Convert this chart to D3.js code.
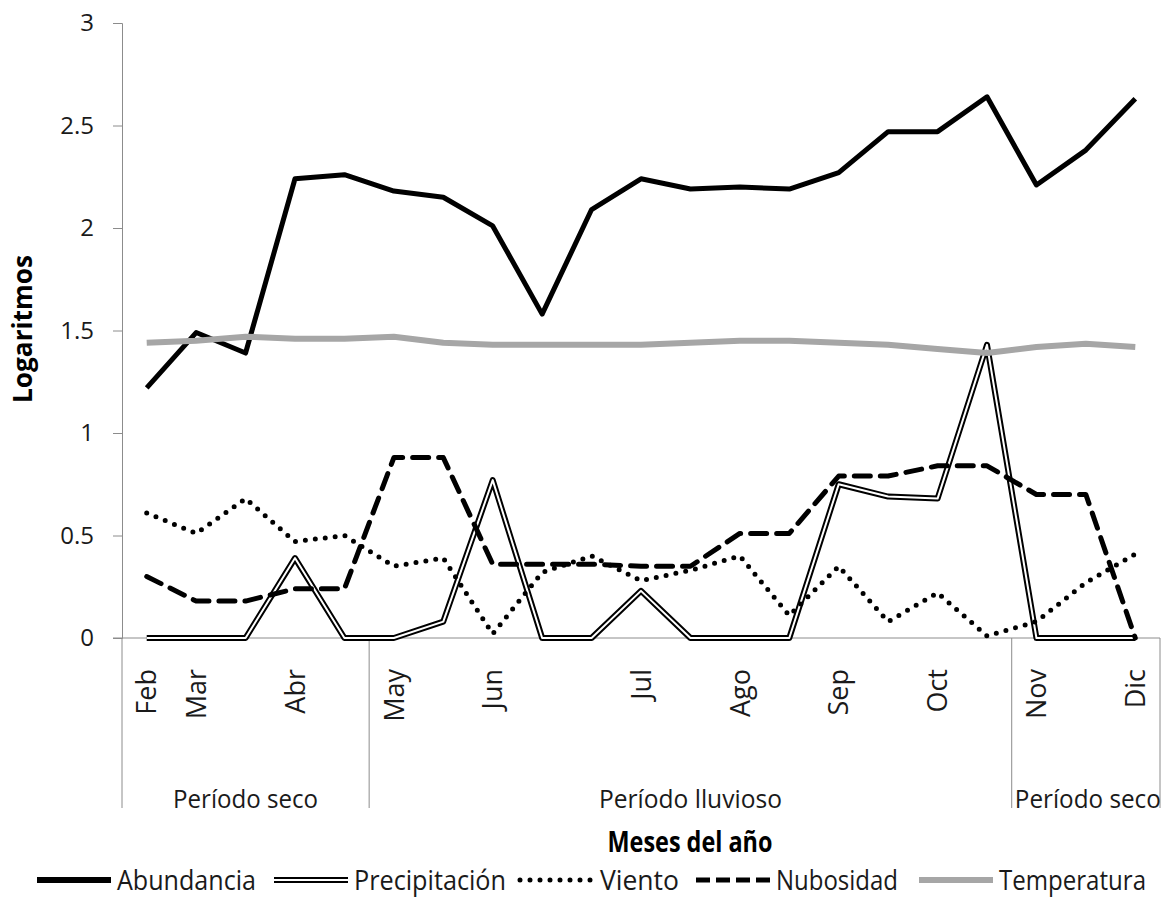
<!doctype html>
<html>
<head>
<meta charset="utf-8">
<script src="https://cdnjs.cloudflare.com/ajax/libs/d3/7.8.5/d3.min.js" type="text/JavaScript"></script>
<style>
body { margin: 0; background: #fff; }
svg { font-family: "Open Sans", "Liberation Sans", sans-serif; }
</style>
</head>
<body>
<div id="viz">
<svg style="width:1171px;height:911px;" />
</div>
<script type="text/javascript">
var categories = ["Feb", "Mar", "", "Abr", "", "May", "", "Jun", "", "", "Jul", "", "Ago", "", "Sep", "", "Oct", "", "Nov", "", "Dic"];
var periodNames = ["Período seco", "Período lluvioso", "Período seco"];
var periodStart = [0, 5, 18];
var periodEnd = [5, 18, 21];

var abundancia = [1.22, 1.49, 1.39, 2.24, 2.26, 2.18, 2.15, 2.01, 1.58, 2.09, 2.24, 2.19, 2.20, 2.19, 2.27, 2.47, 2.47, 2.64, 2.21, 2.38, 2.63];
var precipitacion = [0, 0, 0, 0.39, 0, 0, 0.08, 0.77, 0, 0, 0.23, 0, 0, 0, 0.75, 0.69, 0.68, 1.43, 0, 0, 0];
var viento = [0.61, 0.51, 0.68, 0.47, 0.50, 0.35, 0.39, 0.02, 0.32, 0.40, 0.28, 0.33, 0.40, 0.11, 0.35, 0.08, 0.22, 0.01, 0.08, 0.27, 0.41];
var nubosidad = [0.30, 0.18, 0.18, 0.24, 0.24, 0.88, 0.88, 0.36, 0.36, 0.36, 0.35, 0.35, 0.51, 0.51, 0.79, 0.79, 0.84, 0.84, 0.70, 0.70, 0];
var temperatura = [1.44, 1.45, 1.47, 1.46, 1.46, 1.47, 1.44, 1.43, 1.43, 1.43, 1.43, 1.44, 1.45, 1.45, 1.44, 1.43, 1.41, 1.39, 1.42, 1.435, 1.42];
var yTicks = [0, 0.5, 1, 1.5, 2, 2.5, 3];

var svg = d3.select("svg");
var axisColor = "#8c8c8c";
var plotLeft = 122, plotRight = 1160, plotTop = 23, plotBottom = 638, catBottom = 808;

var x = d3.scaleBand().domain(d3.range(categories.length)).range([plotLeft, plotRight]);
var y = d3.scaleLinear().domain([0, 3]).range([plotBottom, plotTop]);
var cx = i => x(i) + x.bandwidth() / 2;

// y axis
var yAxis = svg.append("g").attr("transform", "translate(" + plotLeft + ",0)")
  .call(d3.axisLeft(y).tickValues(yTicks).tickSize(9).tickPadding(19).tickFormat(d3.format("")));
yAxis.select(".domain").attr("stroke", axisColor);
yAxis.selectAll(".tick line").attr("stroke", axisColor);
yAxis.selectAll(".tick text").attr("font-size", "24px").attr("fill", "#1a1a1a")
  .attr("font-family", "Open Sans, sans-serif");

// x axis + category box
svg.append("line").attr("x1", plotLeft - 9).attr("x2", plotRight).attr("y1", plotBottom).attr("y2", plotBottom)
  .attr("stroke", axisColor);
var bounds = [0].concat(periodEnd);
svg.selectAll(".sep").data(bounds).enter().append("line")
  .attr("x1", d => x(d) === undefined ? plotRight : x(d))
  .attr("x2", d => x(d) === undefined ? plotRight : x(d))
  .attr("y1", plotBottom).attr("y2", catBottom).attr("stroke", axisColor);

svg.selectAll(".cat").data(categories).enter().append("text")
  .attr("transform", (d, i) => "translate(" + cx(i) + ",669) rotate(-90)")
  .attr("text-anchor", "end").attr("dy", "0.36em")
  .attr("font-size", "27px").attr("fill", "#1a1a1a")
  .text(d => d);

var periodWidth = [145, 183, 146];
svg.selectAll(".per").data(periodNames).enter().append("text")
  .attr("x", (d, i) => {
    var a = x(periodStart[i]);
    var b = periodEnd[i] < categories.length ? x(periodEnd[i]) : plotRight;
    return (a + b) / 2 + (i === 2 ? 2 : 0);
  })
  .attr("y", 808).attr("text-anchor", "middle")
  .attr("font-size", "25px").attr("fill", "#1a1a1a")
  .attr("textLength", (d, i) => periodWidth[i]).attr("lengthAdjust", "spacingAndGlyphs")
  .text(d => d);

// axis titles
svg.append("text").attr("x", 690).attr("y", 852).attr("text-anchor", "middle")
  .attr("font-size", "28px").attr("font-weight", "bold")
  .attr("textLength", 165).attr("lengthAdjust", "spacingAndGlyphs")
  .text("Meses del año");
svg.append("text").attr("transform", "translate(32,329) rotate(-90)")
  .attr("text-anchor", "middle").attr("font-size", "26px").attr("font-weight", "bold")
  .attr("textLength", 148).attr("lengthAdjust", "spacingAndGlyphs")
  .text("Logaritmos");

// series
var line = d3.line().x((d, i) => cx(i)).y(d => y(d));
var series = [
  { name: "Abundancia", values: abundancia, styles: [{ stroke: "#000", width: 5 }] },
  { name: "Precipitación", values: precipitacion, styles: [{ stroke: "#000", width: 6 }, { stroke: "#fff", width: 2 }] },
  { name: "Viento", values: viento, styles: [{ stroke: "#000", width: 5, dash: "0,10", cap: "round" }] },
  { name: "Nubosidad", values: nubosidad, styles: [{ stroke: "#000", width: 5, dash: "16,10", cap: "round" }] },
  { name: "Temperatura", values: temperatura, styles: [{ stroke: "#a6a6a6", width: 6 }] }
];

var plot = svg.append("g");
series.forEach(s => {
  s.styles.forEach(st => {
    plot.append("path").datum(s.values)
      .attr("d", line).attr("fill", "none")
      .attr("stroke", st.stroke).attr("stroke-width", st.width)
      .attr("stroke-linejoin", "round")
      .attr("stroke-linecap", st.cap || "butt")
      .attr("stroke-dasharray", st.dash || null);
  });
});

// legend
var legX = [37, 274, 520, 696, 919];
var legTextW = [139, 152, 79, 122, 147];
var legY = 880;
var leg = svg.append("g");
series.forEach((s, k) => {
  s.styles.forEach(st => {
    leg.append("line").attr("x1", legX[k]).attr("x2", legX[k] + 74)
      .attr("y1", legY).attr("y2", legY)
      .attr("stroke", st.stroke).attr("stroke-width", st.width + (k === 0 ? 1 : 0))
      .attr("stroke-linecap", k === 2 ? "round" : "butt")
      .attr("stroke-dasharray", st.dash ? (k === 2 ? "0,10" : "14,6") : null);
  });
  leg.append("text").attr("x", legX[k] + 80).attr("y", legY + 10)
    .attr("font-size", "27px").attr("fill", "#1a1a1a")
    .attr("textLength", legTextW[k]).attr("lengthAdjust", "spacingAndGlyphs")
    .text(s.name);
});
</script>
</body>
</html>
